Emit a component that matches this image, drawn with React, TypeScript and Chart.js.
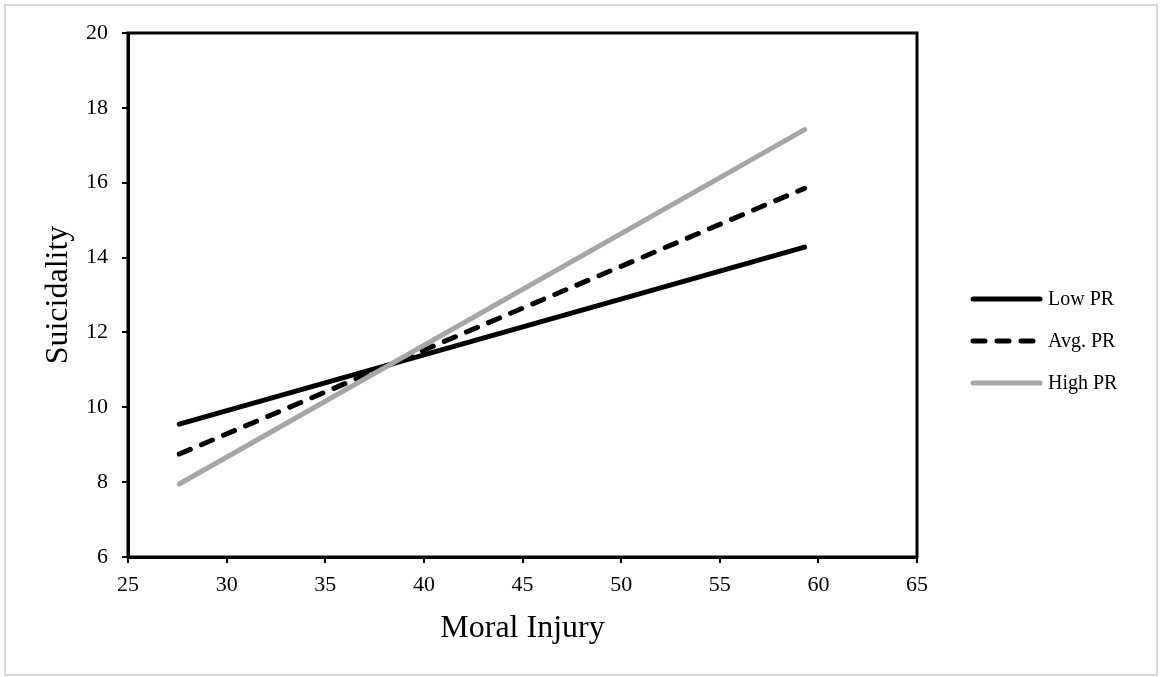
import React, { useEffect, useRef } from "react";
import { Chart, registerables } from "chart.js";

Chart.register(...registerables);

const moralInjury = [27.6, 59.3];
const lowPR = [9.55, 14.28];
const avgPR = [8.75, 15.85];
const highPR = [7.95, 17.42];
const seriesNames = ["Low PR", "Avg. PR", "High PR"];
const xTitle = "Moral Injury";
const yTitle = "Suicidality";

const FONT = "'Liberation Serif', 'Times New Roman', serif";

const toPoints = (ys: number[]) => moralInjury.map((x, i) => ({ x, y: ys[i] }));

export default function App() {
  const ref = useRef<HTMLCanvasElement | null>(null);

  useEffect(() => {
    if (!ref.current) return;
    const styles = [
      { color: "#000000", dash: [] as number[] },
      { color: "#000000", dash: [12, 12] },
      { color: "#a6a6a6", dash: [] as number[] },
    ];

    const decor = {
      id: "decor",
      afterDraw(chart: any) {
        const ctx = chart.ctx;
        const a = chart.chartArea;
        ctx.save();
        // outer border
        ctx.strokeStyle = "#d9d9d9";
        ctx.lineWidth = 2;
        ctx.strokeRect(5, 5, 1152, 670);
        // plot frame
        ctx.strokeStyle = "#000";
        ctx.lineWidth = 3;
        ctx.strokeRect(a.left, a.top, a.right - a.left, a.bottom - a.top);
        // titles
        ctx.fillStyle = "#000";
        ctx.font = `32px ${FONT}`;
        ctx.textAlign = "center";
        ctx.textBaseline = "alphabetic";
        ctx.fillText(xTitle, (a.left + a.right) / 2, 637);
        ctx.save();
        ctx.translate(67, (a.top + a.bottom) / 2);
        ctx.rotate(-Math.PI / 2);
        ctx.fillText(yTitle, 0, 0);
        ctx.restore();
        // legend
        const ys = [299, 341, 383];
        ctx.font = `20px ${FONT}`;
        ctx.textAlign = "left";
        ctx.textBaseline = "middle";
        seriesNames.forEach((name, i) => {
          ctx.beginPath();
          ctx.strokeStyle = styles[i].color;
          ctx.lineWidth = 5;
          ctx.lineCap = "round";
          ctx.setLineDash(styles[i].dash);
          ctx.moveTo(973, ys[i]);
          ctx.lineTo(1040, ys[i]);
          ctx.stroke();
          ctx.setLineDash([]);
          ctx.fillStyle = "#000";
          ctx.fillText(name, 1048, ys[i] + 1);
        });
        ctx.restore();
      },
    };

    const chart = new Chart(ref.current, {
      type: "line",
      data: {
        datasets: [lowPR, avgPR, highPR].map((ys, i) => ({
          label: seriesNames[i],
          data: toPoints(ys),
          borderColor: styles[i].color,
          borderWidth: 5,
          borderDash: styles[i].dash,
          borderCapStyle: "round" as const,
          pointRadius: 0,
          fill: false,
          order: 3 - i,
        })),
      },
      options: {
        animation: false,
        responsive: false,
        events: [],
        layout: { padding: { left: 0, top: 33, right: 243, bottom: 0 } },
        plugins: { legend: { display: false }, tooltip: { enabled: false } },
        scales: {
          x: {
            type: "linear",
            min: 25,
            max: 65,
            ticks: { stepSize: 5, color: "#000", padding: 9, font: { family: FONT, size: 22 } },
            grid: { drawOnChartArea: false, drawTicks: true, tickLength: 6, color: "#000", lineWidth: 2 },
            border: { display: true, color: "#000", width: 3 },
            afterFit: (s: any) => { s.height = 120; },
          },
          y: {
            type: "linear",
            min: 6,
            max: 20,
            ticks: { stepSize: 2, color: "#000", padding: 14, font: { family: FONT, size: 22 } },
            grid: { drawOnChartArea: false, drawTicks: true, tickLength: 6, color: "#000", lineWidth: 2 },
            border: { display: true, color: "#000", width: 3 },
            afterFit: (s: any) => { s.width = 128; },
          },
        },
      },
      plugins: [decor],
    });
    return () => chart.destroy();
  }, []);

  return (
    <div style={{ position: "absolute", left: 0, top: 0, width: 1160, height: 677, background: "#fff" }}>
      <canvas ref={ref} width={1160} height={677} style={{ display: "block" }} />
    </div>
  );
}
